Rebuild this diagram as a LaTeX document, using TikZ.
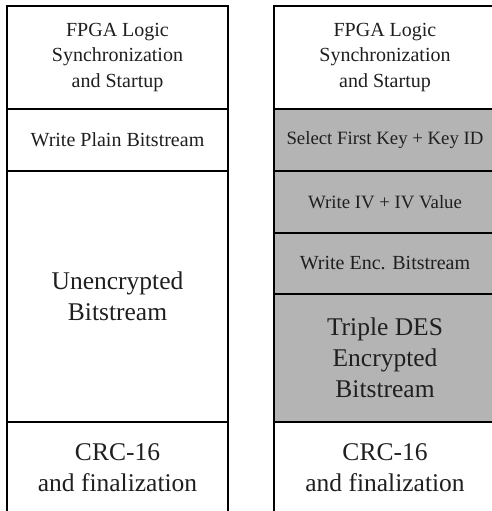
\documentclass[tikz,border=0pt]{standalone}
\usepackage{fontspec}
\setmainfont{Liberation Serif}
\definecolor{encgray}{RGB}{180,180,180}
\begin{document}
\begin{tikzpicture}[x=1pt,y=-1pt,
  layer/.style={draw=black, line width=1.9pt, anchor=north west,
    inner sep=0pt, outer sep=0pt, align=center, text=black!88},
  plainlayer/.style={layer, fill=white},
  enclayer/.style={layer, fill=encgray},
  leftcol/.style={minimum width=221pt},
  rightcol/.style={minimum width=222pt},
  smalltext/.style={font=\fontsize{20}{25.5}\selectfont},
  smallertext/.style={font=\fontsize{18.8}{23}\selectfont},
  largetext/.style={font=\fontsize{25.5}{31}\selectfont}]
\useasboundingbox (0,0) rectangle (491,511);

% plain bitstream layout
\node[plainlayer, leftcol, smalltext, minimum height=103pt] (lsync) at (7,6)
  {FPGA Logic\\Synchronization\\and Startup};
\node[plainlayer, leftcol, smalltext, minimum height=62pt] (lwrite) at (lsync.south west)
  {Write Plain Bitstream};
\node[plainlayer, leftcol, largetext, minimum height=251pt] (lbits) at (lwrite.south west)
  {Unencrypted\\Bitstream};
\node[plainlayer, leftcol, largetext, minimum height=92pt] (lcrc) at (lbits.south west)
  {CRC-16\\and finalization};

% encrypted bitstream layout
\node[plainlayer, rightcol, smalltext, minimum height=103pt] (rsync) at (274,6)
  {FPGA Logic\\Synchronization\\and Startup};
\node[enclayer, rightcol, smallertext, minimum height=62pt] (rkey) at (rsync.south west)
  {Select First Key + Key ID};
\node[enclayer, rightcol, smallertext, minimum height=62pt] (riv) at (rkey.south west)
  {Write IV + IV Value};
\node[enclayer, rightcol, smalltext, minimum height=61pt] (renc) at (riv.south west)
  {Write Enc. Bitstream};
\node[enclayer, rightcol, largetext, minimum height=128pt] (rdes) at (renc.south west)
  {Triple DES\\Encrypted\\Bitstream};
\node[plainlayer, rightcol, largetext, minimum height=92pt] (rcrc) at (rdes.south west)
  {CRC-16\\and finalization};
\end{tikzpicture}
\end{document}
